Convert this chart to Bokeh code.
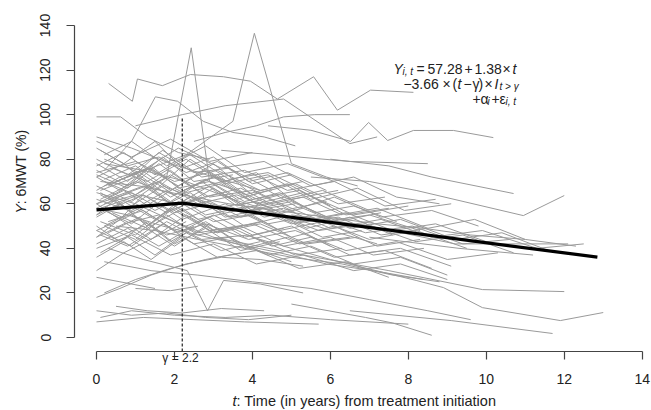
import math
from bokeh.plotting import figure
from bokeh.models import Range1d, FixedTicker, Label, LinearAxis
from bokeh.embed import file_html
from bokeh.resources import INLINE

# ---------------- data ----------------
subject_times = [
    # high / spiky subjects
    [0.31, 0.92, 1.05, 1.69, 2.41, 3.26, 3.95, 4.64, 5.57, 6.18, 7.03, 8.13],
    [0.2, 1.0, 1.8, 2.43, 2.9, 3.6, 4.4],
    [0.5, 1.4, 2.3, 3.5, 4.05, 5.0, 5.9, 6.7],
    [0.0, 0.62, 1.3, 2.1, 2.9],
    [0.2, 0.9, 1.51, 2.08, 2.74, 3.5, 4.3, 5.1],
    [2.5, 3.3, 4.1, 4.8, 5.6, 6.5],
    [1.0, 2.2, 3.3, 4.8, 6.5, 7.2],
    # right-hand long subjects
    [4.4, 5.5, 6.52, 6.98, 7.47, 8.13, 9.16, 10.18],
    [3.2, 4.5, 6.5, 8.5],
    [6.0, 7.5, 8.6, 10.7],
    [5.5, 7.0, 8.2, 10.95, 12.0],
    [5.0, 7.0, 9.2, 12.1],
    [7.0, 9.3, 11.2],
    [3.0, 5.0, 7.5, 9.9, 12.0],
    [4.0, 6.0, 8.2, 8.9, 9.9, 11.9, 13.0],
    [6.5, 9.1, 11.7],
    [5.0, 6.9, 7.6, 8.6],
    # middle mass
    [0, 0.7, 1.5, 2.4, 3.3, 4.1, 5.0, 6.2],
    [0.1, 0.8, 1.7, 2.6, 3.5, 4.6, 5.8, 7.0, 8.3],
    [0, 0.5, 1.3, 2.0, 3.0, 4.2],
    [0.2, 1.1, 2.1, 3.2, 4.3, 5.5, 6.6, 7.7, 8.8],
    [0, 0.9, 1.8, 2.7, 3.9, 5.1, 6.3],
    [0.3, 1.0, 1.9, 2.8, 3.6, 4.4, 5.2, 6.1, 7.3, 8.6, 9.8],
    [0, 0.6, 1.4, 2.3, 3.1],
    [0.1, 1.0, 2.0, 3.1, 4.0, 5.2, 6.4, 7.5],
    [0, 0.8, 1.6, 2.5, 3.4, 4.5],
    [0.4, 1.2, 2.2, 3.3, 4.4, 5.6, 6.9, 8.1, 9.4, 10.6],
    [0, 0.7, 1.5, 2.2, 3.0, 3.9, 4.9, 5.9],
    [0.2, 1.1, 2.0, 2.9, 3.8, 4.8],
    [0, 0.9, 1.9, 3.0, 4.1, 5.3, 6.6, 7.8, 9.0],
    [0.5, 1.3, 2.1, 3.0, 4.0, 5.1, 6.2, 7.4],
    [0, 0.6, 1.2, 2.0, 2.9, 3.8, 4.7, 5.8, 6.8],
    [0.1, 1.0, 1.9, 2.7, 3.6, 4.7, 5.9, 7.2, 8.5, 9.7, 11.0],
    [0, 0.8, 1.7, 2.5, 3.5],
    [0.3, 1.2, 2.1, 3.0, 4.0, 5.0, 6.0],
    [0, 0.7, 1.6, 2.6, 3.7, 4.8, 6.0, 7.1, 8.4],
    [0.2, 0.9, 1.8, 2.8, 3.8, 4.9, 6.1],
    [0, 1.0, 2.0, 3.0, 4.1, 5.2, 6.4, 7.6, 8.7, 10.0],
    [0.1, 0.8, 1.5, 2.3, 3.2, 4.2],
    [0, 0.6, 1.4, 2.1, 2.9, 3.8, 4.7, 5.6, 6.6, 7.7],
    [0.4, 1.3, 2.2, 3.1, 4.2, 5.4, 6.7],
    [0, 0.9, 1.9, 2.9, 4.0, 5.1],
    [0.2, 1.0, 1.8, 2.6, 3.5, 4.5, 5.5, 6.5, 7.8, 9.1],
    [0, 0.7, 1.5, 2.4, 3.4, 4.4, 5.6],
    [0.1, 1.1, 2.1, 3.2, 4.3, 5.3, 6.5, 7.8, 9.2, 10.4, 11.6],
    [0, 0.8, 1.6, 2.5],
    [0.3, 1.1, 2.0, 2.9, 3.9, 5.0, 6.2, 7.3],
    [0, 0.6, 1.3, 2.1, 3.0, 4.0, 5.0, 6.1, 7.2, 8.3],
    [0.2, 1.0, 1.9, 2.8, 3.7, 4.8, 5.9],
    [0, 0.9, 1.8, 2.8, 3.9, 5.1, 6.4, 7.7, 9.0, 10.3],
    [0.1, 0.8, 1.6, 2.3, 3.1, 4.0, 5.0],
    [0, 0.7, 1.5, 2.4, 3.3, 4.3, 5.4, 6.5, 7.6],
    [0.4, 1.2, 2.0, 2.9, 3.8, 4.9, 6.1, 7.4, 8.6],
    [0, 1.0, 2.0, 3.1, 4.2, 5.3],
    [0.2, 0.9, 1.7, 2.6, 3.6, 4.7, 5.8, 7.0, 8.2, 9.5],
    [0, 0.6, 1.4, 2.3, 3.2, 4.2, 5.3, 6.3],
    [0.1, 1.0, 1.9, 2.9, 4.0, 5.2, 6.5],
    [0, 0.8, 1.7, 2.7, 3.8, 4.9, 6.1, 7.4, 8.7],
    [0.3, 1.1, 1.9, 2.8, 3.7],
    [0, 0.9, 1.8, 2.7, 3.7, 4.8, 6.0, 7.3, 8.6, 9.9, 11.3, 12.5],
    [0.2, 1.0, 1.9, 2.8, 3.8, 4.9, 6.0],
    [0, 0.7, 1.4, 2.2, 3.1, 4.1, 5.2, 6.4, 7.5],
    [0.1, 0.9, 1.8, 2.8, 3.9, 5.0, 6.2, 7.3, 8.5],
    [0, 0.8, 1.6, 2.6, 3.6, 4.6],
    [0.4, 1.3, 2.3, 3.3, 4.4, 5.5, 6.7, 7.9, 9.1],
    [0, 0.6, 1.3, 2.0, 2.8, 3.7, 4.7],
    [0.2, 1.1, 2.0, 3.0, 4.1, 5.3, 6.6, 8.0],
    [0, 0.9, 1.9, 2.9, 4.0],
    [0.1, 0.8, 1.7, 2.5, 3.4, 4.4, 5.5, 6.6, 7.8, 9.0],
    [0, 0.7, 1.5, 2.4, 3.4, 4.5, 5.7, 6.9, 8.2, 9.4, 10.7],
    [0.3, 1.2, 2.1, 3.0, 4.0, 5.1],
    [0, 0.8, 1.6, 2.5, 3.5, 4.6, 5.8, 7.0],
    # decliners
    [0, 1.0, 2.0, 3.0, 4.0, 5.0],
    [0.2, 1.2, 2.3, 3.5, 4.8, 6.0, 7.2],
    [0, 0.8, 1.7, 2.6, 3.6, 4.7, 5.9, 7.1, 8.4],
    [0.5, 1.5, 2.6, 3.8, 5.0, 6.3, 7.6, 8.8],
    [0, 0.9, 1.9, 3.0, 4.2],
    [0.1, 1.1, 2.2, 3.4, 4.6, 5.9, 7.2, 8.4, 9.6, 11.0, 12.3],
    # risers
    [0, 0.7, 1.5, 2.3],
    [0.2, 1.0, 1.9, 2.8, 3.7],
    [0, 0.6, 1.4, 2.3, 3.2, 4.2, 5.3],
    # low subjects
    [0, 1.2, 2.5, 3.8, 5.7],
    [0.1, 0.9, 2.0, 3.3, 4.5, 6.0, 8.0],
    [0.5, 1.3, 2.2, 3.2, 4.3],
    [0, 0.6, 1.5],
    [1.0, 1.9, 2.6],
    [0.3, 1.2, 2.33, 2.85, 3.26, 4.2, 5.3],
    [0, 0.9, 1.8, 2.8, 3.9, 5.0],
    [0.2, 1.4, 2.6, 4.0, 5.5, 7.0, 8.5, 9.6],
]

subject_values = [
    [114, 106, 116, 113, 118, 117, 115, 107, 117, 102, 111, 110],
    [60, 64, 72, 130, 70, 66, 60],
    [70, 76, 82, 97, 136.5, 78, 72, 68],
    [99, 99, 90, 83, 80],
    [75, 88, 108, 106, 97, 92, 90, 86],
    [88, 92, 95, 99, 100, 100],
    [95, 100, 104, 107, 87, 90],
    [95, 93, 88, 96.5, 88.4, 92.9, 92.9, 89.7],
    [84, 82, 79, 78],
    [80, 77, 72, 64.6],
    [72, 70, 66, 54.7, 63.7],
    [55, 50, 42, 42],
    [45, 40, 37, 24],
    [45, 38, 30, 21.5, 20.6],
    [45, 35, 25.6, 22.4, 13.4, 7.6, 11.2],
    [12, 7.6, 1.8],
    [15, 9, 6.5, 1],
    [72, 78, 66, 80, 70, 74, 62, 66],
    [65, 58, 68, 62, 57, 61, 52, 55, 48],
    [55, 62, 50, 58, 47, 52],
    [80, 74, 85, 76, 79, 68, 72, 63, 60],
    [48, 41, 52, 44, 46, 37, 40],
    [68, 74, 63, 71, 62, 66, 58, 63, 54, 57, 50],
    [45, 53, 44, 55, 47],
    [62, 70, 64, 73, 62, 66, 55, 58],
    [78, 70, 83, 74, 76, 66],
    [58, 64, 53, 60, 51, 55, 47, 50, 42, 44],
    [85, 78, 88, 76, 81, 70, 74, 66],
    [50, 58, 48, 54, 45, 49],
    [40, 46, 37, 42, 33, 37, 30, 33, 26],
    [70, 76, 68, 78, 64, 69, 60, 63],
    [60, 53, 64, 56, 60, 50, 54, 45, 48],
    [66, 72, 61, 70, 59, 64, 54, 58, 49, 53, 44],
    [75, 68, 81, 70, 73],
    [52, 57, 47, 55, 46, 50, 41],
    [45, 51, 55, 47, 50, 41, 45, 37, 40],
    [82, 88, 77, 86, 74, 78, 70],
    [62, 56, 67, 58, 61, 52, 56, 48, 51, 43],
    [38, 45, 37, 47, 39, 43],
    [72, 66, 77, 67, 70, 61, 65, 56, 59, 52],
    [56, 49, 58, 47, 51, 42, 45],
    [68, 61, 73, 63, 66, 56],
    [50, 44, 55, 46, 49, 41, 45, 37, 40, 32],
    [77, 83, 73, 82, 71, 74, 64],
    [58, 64, 60, 65, 54, 58, 49, 53, 44, 47, 39],
    [42, 49, 41, 50],
    [63, 70, 59, 68, 57, 61, 52, 56],
    [54, 60, 50, 61, 52, 55, 45, 50, 41, 44],
    [70, 64, 75, 63, 67, 57, 61],
    [48, 55, 46, 51, 44, 48, 39, 43, 35, 38],
    [84, 77, 81, 74, 79, 69, 73],
    [60, 66, 57, 65, 54, 58, 49, 54, 46],
    [44, 50, 41, 51, 40, 45, 36, 39, 31],
    [74, 79, 70, 75, 66, 70],
    [57, 51, 62, 53, 57, 48, 52, 44, 48, 40],
    [66, 72, 76, 65, 69, 59, 63, 55],
    [52, 46, 58, 48, 51, 42, 45],
    [80, 73, 84, 72, 75, 66, 70, 59, 62],
    [47, 54, 43, 52, 42],
    [60, 65, 56, 63, 54, 58, 49, 53, 45, 48, 40, 42],
    [71, 77, 66, 75, 64, 69, 59],
    [36, 43, 35, 45, 36, 39, 31, 34, 27],
    [64, 57, 66, 55, 59, 51, 54, 46, 49],
    [58, 65, 70, 60, 64, 57],
    [76, 70, 80, 69, 73, 62, 67, 57, 60],
    [50, 43, 52, 42, 49, 39, 43],
    [68, 74, 64, 72, 60, 65, 55, 59],
    [88, 81, 89, 79, 83],
    [46, 41, 51, 42, 45, 37, 41, 33, 36, 28],
    [55, 61, 53, 63, 54, 56, 48, 51, 43, 46, 38],
    [62, 68, 58, 67, 57, 60],
    [73, 67, 78, 67, 71, 61, 66, 57],
    [65, 60, 52, 45, 40, 34],
    [78, 75, 70, 62, 55, 48, 42],
    [58, 55, 50, 46, 42, 38, 33, 30, 26],
    [50, 48, 44, 40, 36, 33, 28, 25],
    [90, 85, 78, 72, 66],
    [70, 68, 64, 60, 57, 54, 51, 49, 46, 44, 41],
    [30, 38, 45, 52],
    [20, 26, 31, 35, 38],
    [18, 22, 28, 33, 36, 35, 32],
    [7, 9, 8, 7, 6],
    [9, 12, 10, 9, 10, 8, 6],
    [14, 12, 11, 13, 12],
    [27, 25, 22],
    [22, 21, 23],
    [40, 35, 30, 12, 25.6, 24, 20],
    [12, 10, 11, 9, 8, 10],
    [34, 30, 28, 25, 22, 17, 12, 8],
]

fit_t = [0.0, 2.2, 12.85]
fit_y = [57.28, 60.32, 36.04]
gamma_t = 2.2
gamma_top = 99

x_ticks = [0, 2, 4, 6, 8, 10, 12, 14]
y_ticks = [0, 20, 40, 60, 80, 100, 120, 140]

# ---------------- figure ----------------
W, H = 651, 410
X0, PXX = 96.0, 38.98      # canvas px of t=0, px per year
Y0, PXY = 337.0, 2.2286    # canvas px of Y=0, px per unit
AXL, AXB = 74, 351         # canvas px of the y-axis line and x-axis line


def dx(px):
    return (px - X0) / PXX


def dy(py):
    return (Y0 - py) / PXY


p = figure(width=W, height=H,
           x_range=Range1d(dx(0), dx(W)), y_range=Range1d(dy(H), dy(0)),
           output_backend="svg", toolbar_location=None,
           min_border_left=0, min_border_right=0,
           min_border_top=0, min_border_bottom=0,
           x_axis_type=None, y_axis_type=None)
p.outline_line_color = None
p.background_fill_color = "white"
p.border_fill_color = "white"

FONT = "Liberation Sans"
INK = "#222222"

xaxis = LinearAxis(ticker=FixedTicker(ticks=x_ticks), bounds=(0, 14),
                   fixed_location=dy(AXB))
yaxis = LinearAxis(ticker=FixedTicker(ticks=y_ticks), bounds=(0, 140),
                   fixed_location=dx(AXL))
for ax in (xaxis, yaxis):
    ax.axis_line_color = "#444444"
    ax.axis_line_width = 1.2
    ax.major_tick_line_color = "#444444"
    ax.major_tick_line_width = 1.2
    ax.major_tick_out = 8
    ax.major_tick_in = 0
    ax.minor_tick_line_color = None
    ax.major_label_text_font = FONT
    ax.major_label_text_font_size = "14px"
    ax.major_label_text_color = INK
xaxis.major_label_standoff = 14
yaxis.major_label_standoff = 16
yaxis.major_label_orientation = "vertical"
p.add_layout(xaxis, "below")
p.add_layout(yaxis, "left")

for ts, vs in zip(subject_times, subject_values):
    p.line(ts, vs, line_color="#9a9a9a", line_width=1)

p.line(fit_t, fit_y, line_color="black", line_width=3.2)
p.line([gamma_t, gamma_t], [dy(AXB), gamma_top], line_color=INK,
       line_width=1.2, line_dash="3 2")


def lab(text, px, py, size=14, italic=False, align="left", baseline="alphabetic", angle=0):
    p.add_layout(Label(x=dx(px), y=dy(py), text=text,
                       text_font=FONT, text_font_size=f"{size}px",
                       text_font_style="italic" if italic else "normal",
                       text_color=INK, text_align=align,
                       text_baseline=baseline, angle=angle))


# formula, line 1
lab("Y", 393, 68, italic=True)
lab("i, t", 402, 71, size=10, italic=True)
lab("=", 416, 68)
lab("57.28", 427, 68)
lab("+", 464, 68)
lab("1.38", 474, 68)
lab("×", 502, 68)
lab("t", 512, 68, italic=True)
# line 2
lab("−", 403, 83)
lab("3.66", 411, 83)
lab("×", 442, 83)
lab("(", 452, 83)
lab("t", 457, 83, italic=True)
lab("−", 463, 83)
lab("γ", 472, 83)
lab(")", 478, 83)
lab("×", 484, 83)
lab("I", 494, 83, italic=True)
lab("t > γ", 499, 86, size=10, italic=True)
# line 3
lab("+", 472, 98)
lab("α", 480, 98)
lab("i", 487, 101, size=10, italic=True)
lab("+", 491, 98)
lab("ε", 499, 98)
lab("i, t", 505, 101, size=10, italic=True)

# gamma label
lab("γ = 2.2", 180, 357, size=12, align="center", baseline="middle")

# axis titles
lab("t", 232, 400, size=14.5, italic=True, baseline="middle")
lab(": Time (in years) from treatment initiation", 236, 400, size=14.5, baseline="middle")
lab("Y", 20, 213, italic=True, baseline="middle", angle=math.pi / 2)
lab(": 6MWT (%)", 20, 203.7, baseline="middle", angle=math.pi / 2)

open("out.html", "w").write(file_html(p, INLINE))
